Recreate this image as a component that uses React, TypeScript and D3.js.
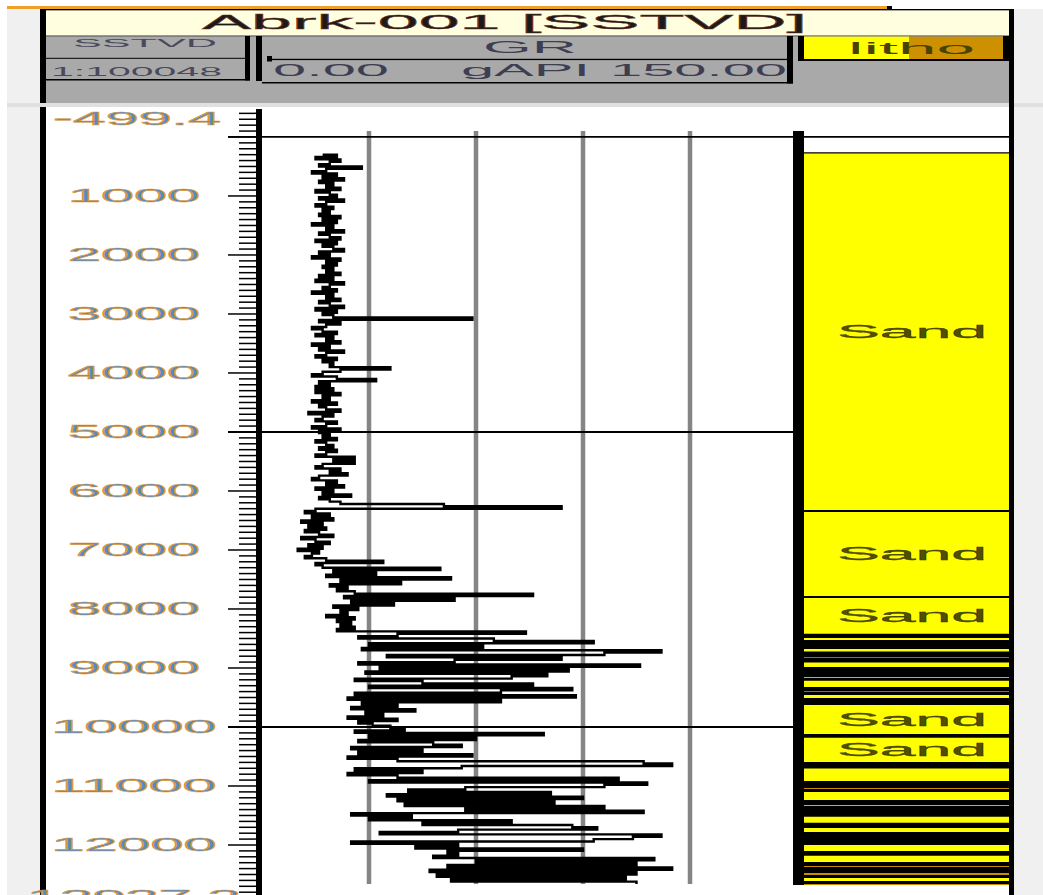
import React from "react";
import * as d3 from "d3";

// ---------- data ----------
const depthLabels = ["-499.4", "1000", "2000", "3000", "4000", "5000", "6000", "7000", "8000", "9000", "10000", "11000", "12000", "12937.3"];
const depthLabelValues = [-499.4, 1000, 2000, 3000, 4000, 5000, 6000, 7000, 8000, 9000, 10000, 11000, 12000, 12937.3];
const depthTop = -499.4;
const depthBottom = 12937.3;
const majorLines = [0, 5000, 10000];

const grStartDepth = 300;
const grStep = 40;
const grValues: number[] = [
  // 300 - 1260
  17, 21, 15, 22, 19, 16, 28, 18, 14, 21, 17, 23, 16, 20, 18, 22, 15, 19, 21, 16, 23, 18, 15, 20, 17,
  // 1300 - 2260
  19, 16, 22, 17, 21, 14, 20, 18, 23, 16, 19, 22, 15, 21, 17, 20, 23, 16, 19, 14, 22, 18, 21, 17, 20,
  // 2300 - 3260
  18, 22, 16, 20, 15, 23, 19, 17, 21, 14, 20, 18, 22, 16, 19, 23, 15, 21, 17, 20, 59, 16, 22, 18, 14,
  // 3300 - 4260
  17, 21, 15, 20, 18, 22, 14, 19, 16, 23, 18, 15, 21, 17, 20, 19, 36, 22, 17, 14, 21, 32, 16, 19, 15,
  // 4300 - 5260
  20, 15, 22, 17, 19, 14, 21, 16, 18, 22, 13, 20, 17, 15, 21, 18, 14, 22, 16, 19, 17, 21, 15, 18, 20,
  // 5300 - 6260
  16, 21, 18, 15, 26, 20, 26, 17, 15, 22, 19, 24, 16, 14, 21, 18, 23, 15, 20, 17, 25, 16, 19, 22, 51,
  // 6300 - 7260
  84, 15, 12, 19, 14, 20, 11, 17, 13, 18, 12, 16, 20, 11, 15, 19, 13, 17, 10, 16, 14, 12, 18, 34, 15,
  // 7300 - 8260
  17, 50, 20, 32, 18, 53, 22, 39, 19, 24, 21, 26, 76, 23, 54, 25, 37, 20, 27, 22, 24, 18, 26, 21, 25,
  // 8300 - 9260
  22, 26, 21, 74, 38, 27, 65, 93, 30, 62, 28, 112, 96, 35, 84, 54, 27, 106, 33, 86, 29, 80, 70, 26, 45,
  // 9300 - 10260
  76, 30, 87, 67, 26, 88, 24, 67, 28, 38, 25, 43, 29, 34, 24, 38, 27, 31, 36, 40, 26, 79, 30, 60, 27,
  // 10300 - 11260
  48, 56, 25, 45, 27, 59, 24, 38, 107, 115, 56, 26, 45, 24, 38, 100, 30, 108, 96, 57, 41, 81, 35, 90, 38,
  // 11300 - 12260
  82, 40, 96, 57, 107, 25, 42, 30, 70, 45, 87, 94, 55, 33, 112, 104, 93, 25, 55, 43, 90, 52, 55, 48, 110,
  // 12300 - 12660
  60, 105, 52, 115, 47, 105, 49, 102, 53, 105,
];

const lithoTops = [271, 6339, 7797, 8436, 8475, 8542, 8661, 8734, 8751, 8775, 8808, 8847, 8893, 9000, 9136, 9181, 9203, 9339, 9385, 9424, 9441, 9525, 9610, 10136, 10169, 10610, 10639, 10656, 10690, 10932, 11017, 11068, 11085, 11254, 11305, 11351, 11373, 11402, 11441, 11458, 11508, 11639, 11695, 11797, 11864, 11881, 11983, 12119, 12169, 12305, 12339, 12390, 12458, 12525, 12542, 12627, 12644];
const lithoBottom = 12678;
const lithoTypes = ["Sand", "Sand", "Sand", "Coal", "Sand", "Coal", "Sand", "Coal", "Silt", "Coal", "Sand", "Coal", "Sand", "Coal", "Sand", "Coal", "Sand", "Coal", "Sand", "Coal", "Sand", "Coal", "Sand", "Coal", "Sand", "Coal", "Silt", "Coal", "Sand", "Coal", "Silt", "Coal", "Sand", "Coal", "Sand", "Coal", "Silt", "Coal", "Sand", "Coal", "Sand", "Coal", "Sand", "Coal", "Sand", "Coal", "Sand", "Coal", "Sand", "Coal", "Silt", "Coal", "Silt", "Coal", "Sand", "Coal", "Silt"];
const lithoColors: Record<string, string> = { Sand: "#ffff00", Silt: "#cc8c00", Coal: "#000000" };

const grGridValues = [30, 60, 90, 120];

// ---------- layout ----------
const W = 1043;
const H = 895;
const FONT = "'Liberation Sans', Arial, sans-serif";

export default function App() {
  const y = d3.scaleLinear().domain([depthTop, depthBottom]).range([107.5, 900.3]);
  const xGR = d3.scaleLinear().domain([0, 150]).range([262, 797]);

  const grPoints = grValues.map((v, i) => ({ d: grStartDepth + i * grStep, v }));
  const grLine = d3
    .line<{ d: number; v: number }>()
    .x((p) => xGR(p.v))
    .y((p) => y(p.d))
    .curve(d3.curveStepAfter);

  const minorTicks = d3.range(-400, 12937, 100).filter((t) => t % 1000 !== 0);
  const majorTicks = d3.range(0, 12937, 1000);

  const charW = (s: string) =>
    s.split("").reduce((acc, c) => acc + (c === "." ? 16 : c === "-" ? 20 : 33), 0);

  const layers = lithoTops.map((t, i) => ({
    top: t,
    base: i < lithoTops.length - 1 ? lithoTops[i + 1] : lithoBottom,
    type: lithoTypes[i],
  }));

  const gridTop = 131;
  const gridBottom = 884;

  return (
    <div style={{ position: "absolute", left: 0, top: 0, width: W, height: H, overflow: "hidden" }}>
      <svg width={W} height={H} style={{ display: "block" }}>
        <rect x={0} y={0} width={W} height={H} fill="#ffffff" />
        {/* margins */}
        <rect x={7} y={9} width={33} height={H - 9} fill="#f0f0f0" />
        <rect x={1014} y={9} width={29} height={H - 9} fill="#f0f0f0" />
        {/* orange top line */}
        <rect x={7} y={6} width={880} height={3} fill="#f0a028" />
        <rect x={887} y={6} width={5} height={3} fill="#000" />

        {/* header */}
        <rect x={40} y={9} width={974} height={1.6} fill="#000" />
        <rect x={46} y={10.6} width={963} height={25} fill="#ffffe0" />
        <rect x={46} y={35.6} width={963} height={1} fill="#000" />
        <rect x={46} y={36.6} width={963} height={66.4} fill="#a9a9a9" />
        <rect x={40} y={9} width={6} height={94} fill="#000" />
        <rect x={1009} y={9} width={5} height={94} fill="#000" />
        <text x={202} y={29} fontFamily={FONT} fontSize={21} fill="#1a1a1a" stroke="#6a3020" strokeWidth={0.4} textLength={605} lengthAdjust="spacingAndGlyphs">
          Abrk-001 [SSTVD]
        </text>

        {/* SSTVD box */}
        <rect x={46} y={57.8} width={199} height={1} fill="#000" />
        <rect x={46} y={79} width={204} height={1.5} fill="#000" />
        <rect x={245} y={36} width={5} height={44.5} fill="#000" />
        <text x={73} y={47} fontFamily={FONT} fontSize={11} fill="#4a4a5c" textLength={144} lengthAdjust="spacingAndGlyphs">
          SSTVD
        </text>
        <text x={51} y={75.5} fontFamily={FONT} fontSize={12} fill="#4a4a5c" textLength={171} lengthAdjust="spacingAndGlyphs">
          1:100048
        </text>

        {/* GR header */}
        <rect x={256} y={36} width={6} height={45} fill="#000" />
        <rect x={267} y={58.8} width={520} height={1.3} fill="#000" />
        <rect x={267} y={56} width={5} height={5.5} fill="#000" />
        <rect x={262} y={82} width={531} height={1.5} fill="#000" />
        <rect x={787} y={36} width={6} height={47.5} fill="#000" />
        <text x={483} y={52.5} fontFamily={FONT} fontSize={16} fill="#3e3e52" textLength={94} lengthAdjust="spacingAndGlyphs">
          GR
        </text>
        <text x={273} y={76} fontFamily={FONT} fontSize={16} fill="#3e3e52" textLength={116} lengthAdjust="spacingAndGlyphs">
          0.00
        </text>
        <text x={461} y={76} fontFamily={FONT} fontSize={16} fill="#3e3e52" textLength={129} lengthAdjust="spacingAndGlyphs">
          gAPI
        </text>
        <text x={610} y={76} fontFamily={FONT} fontSize={16} fill="#3e3e52" textLength={177} lengthAdjust="spacingAndGlyphs">
          150.00
        </text>

        {/* litho header */}
        <rect x={798} y={36} width={6} height={25} fill="#000" />
        <rect x={804} y={36.6} width={105} height={22.4} fill="#ffff00" />
        <rect x={909} y={36.6} width={94} height={22.4} fill="#cc9000" />
        <rect x={1003} y={36} width={6} height={25} fill="#000" />
        <rect x={798} y={59} width={211} height={2} fill="#000" />
        <text x={848} y={53.5} fontFamily={FONT} fontSize={16} fill="#4a4200" textLength={127} lengthAdjust="spacingAndGlyphs">
          litho
        </text>

        {/* separator band */}
        <rect x={7} y={103} width={1036} height={4} fill="#e0e0e0" />

        {/* outer plot bars */}
        <rect x={40} y={107} width={6} height={H - 107} fill="#000" />
        <rect x={1009} y={100} width={5} height={H - 100} fill="#000" />

        {/* depth track */}
        <rect x={256} y={109} width={6} height={H - 109} fill="#000" />
        {minorTicks.map((t) => (
          <line key={"mt" + t} x1={239} x2={256} y1={y(t)} y2={y(t)} stroke="#000" strokeWidth={1.5} />
        ))}
        {majorTicks.map((t) => (
          <line key={"Mt" + t} x1={228} x2={256} y1={y(t)} y2={y(t)} stroke="#000" strokeWidth={1.5} />
        ))}
        {depthLabels.map((lab, i) => {
          const v = depthLabelValues[i];
          let cy = y(v);
          if (i === 0) cy = y(v) + 11;
          if (i === depthLabels.length - 1) cy = 897;
          const w = charW(lab);
          const cx = i === 0 ? 137 : 134;
          return (
            <text
              key={lab}
              x={cx - w / 2}
              y={cy + 6.3}
              fontFamily={FONT}
              fontSize={17.5}
              fill="#4f8cc9"
              stroke="#d9963c"
              strokeWidth={0.6}
              textLength={w}
              lengthAdjust="spacingAndGlyphs"
            >
              {lab}
            </text>
          );
        })}

        {/* GR track grid */}
        {grGridValues.map((g) => (
          <line key={"g" + g} x1={xGR(g)} x2={xGR(g)} y1={gridTop} y2={gridBottom} stroke="#858585" strokeWidth={4.5} />
        ))}
        {majorLines.map((m) => (
          <line
            key={"ml" + m}
            x1={228}
            x2={m === 0 ? 1009 : 793}
            y1={y(m)}
            y2={y(m)}
            stroke="#000"
            strokeWidth={1.8}
          />
        ))}

        {/* GR curve */}
        <path d={grLine(grPoints) || ""} fill="none" stroke="#000" strokeWidth={2.4} strokeLinejoin="miter" strokeLinecap="butt" />

        {/* litho track */}
        <rect x={793} y={131} width={11} height={885 - 131} fill="#000" />
        {layers.map((l, i) => (
          <rect
            key={"ly" + i}
            x={804}
            y={y(l.top)}
            width={205}
            height={y(l.base) - y(l.top)}
            fill={lithoColors[l.type]}
          />
        ))}
        {layers.map((l, i) => (
          <line
            key={"lb" + i}
            x1={804}
            x2={1009}
            y1={y(l.top)}
            y2={y(l.top)}
            stroke="#000"
            strokeWidth={i === 0 ? 1.2 : 1.8}
          />
        ))}
        {layers
          .filter((l) => l.type === "Sand" && y(l.base) - y(l.top) >= 24)
          .map((l, i) => {
            const cy = (y(l.top) + y(l.base)) / 2;
            return (
              <text
                key={"lt" + i}
                x={837}
                y={cy + 6.3}
                fontFamily={FONT}
                fontSize={17.5}
                fill="#505000"
                stroke="#3a3a00"
                strokeWidth={0.3}
                textLength={150}
                lengthAdjust="spacingAndGlyphs"
              >
                {l.type}
              </text>
            );
          })}
      </svg>
    </div>
  );
}
